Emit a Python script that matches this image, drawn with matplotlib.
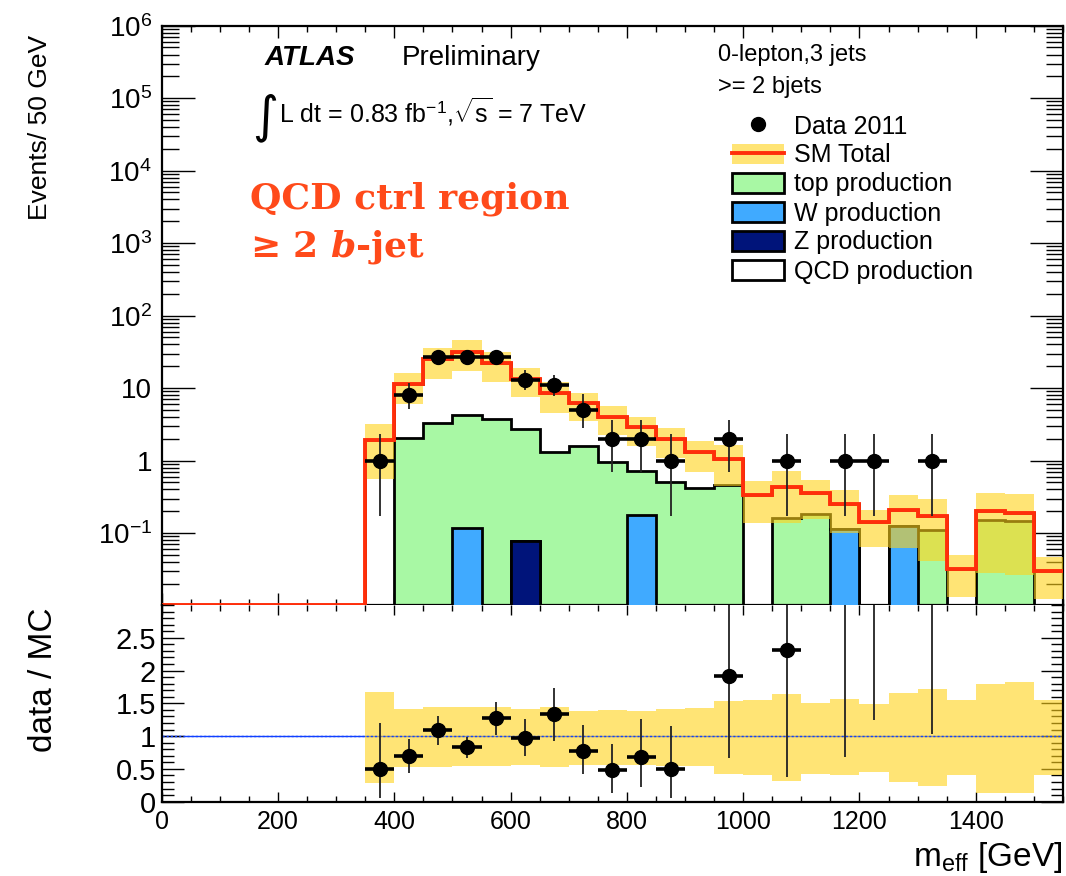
import matplotlib
matplotlib.use("Agg")
import matplotlib.pyplot as plt
import numpy as np
from matplotlib.lines import Line2D
from matplotlib.patches import Patch
from matplotlib.ticker import MultipleLocator, FixedLocator, LogLocator, FuncFormatter, NullFormatter

plt.rcParams['font.family'] = ['Liberation Sans', 'DejaVu Sans']
plt.rcParams['mathtext.fontset'] = 'custom'
plt.rcParams['mathtext.rm'] = 'Liberation Sans'
plt.rcParams['mathtext.it'] = 'DejaVu Serif:italic:bold'
plt.rcParams['mathtext.bf'] = 'DejaVu Serif:bold'

# ---- data (50 GeV bins, 0 - 1550 GeV) ----
edges = np.arange(0, 1551, 50)

sm_total = [0, 0, 0, 0, 0, 0, 0, 1.9, 11.4, 25, 31.7, 22, 13.3, 8.5, 6.3, 4.0,
            2.87, 1.99, 1.30, 1.05, 0.34, 0.435, 0.36, 0.254, 0.142, 0.205, 0.171,
            0.0324, 0.199, 0.19, 0.030]
top_prod = [0, 0, 0, 0, 0, 0, 0, 0, 2.05, 3.3, 4.08, 3.75, 2.67, 1.32, 1.57, 0.96,
            0.55, 0.50, 0.42, 0.467, 0, 0.163, 0.181, 0, 0, 0, 0.112,
            0, 0.151, 0.148, 0]
w_prod = [0, 0, 0, 0, 0, 0, 0, 0, 0, 0, 0.119, 0, 0, 0, 0, 0,
          0.177, 0, 0, 0, 0, 0, 0, 0.113, 0, 0.124, 0,
          0, 0, 0, 0]
z_prod = [0, 0, 0, 0, 0, 0, 0, 0, 0, 0, 0, 0, 0.077, 0, 0, 0,
          0, 0, 0, 0, 0, 0, 0, 0, 0, 0, 0,
          0, 0, 0, 0]

# relative SM uncertainty band, bins from 350 GeV on
band_edges = edges[7:]
band_hi = [1.67, 1.42, 1.44, 1.44, 1.44, 1.42, 1.44, 1.38, 1.40, 1.39, 1.41, 1.43,
           1.54, 1.55, 1.64, 1.50, 1.56, 1.49, 1.66, 1.72, 1.55, 1.80, 1.82, 1.55]
band_lo = [0.29, 0.53, 0.53, 0.54, 0.55, 0.56, 0.53, 0.56, 0.56, 0.56, 0.54, 0.54,
           0.42, 0.41, 0.32, 0.43, 0.40, 0.45, 0.30, 0.24, 0.41, 0.14, 0.14, 0.41]

data_x = [375, 425, 475, 525, 575, 625, 675, 725, 775, 825, 875, 975, 1075, 1175, 1225, 1325]
data_val = [1, 8, 27, 27, 27, 13, 11, 5, 2, 2, 1, 2, 1, 1, 1, 1]
data_hi = [2.36, 11.9, 33, 33, 33, 17.6, 15.4, 8.4, 3.6, 3.6, 2.36, 3.6, 2.36, 2.36, 2.36, 2.36]
data_lo = [0.17, 5.2, 22, 22, 22, 9.4, 7.7, 2.8, 0.7, 0.7, 0.17, 0.7, 0.17, 0.17, 0.17, 0.17]

ratio_val = [0.50, 0.70, 1.09, 0.84, 1.27, 0.97, 1.33, 0.78, 0.48, 0.68, 0.50, 1.91, 2.32, 3.9, 7.0, 5.8]
ratio_hi = [1.20, 0.96, 1.30, 0.98, 1.52, 1.26, 1.74, 1.17, 0.88, 1.26, 1.16, 3.45, 5.4, 9.3, 16.6, 13.8]
ratio_lo = [0.05, 0.44, 0.87, 0.67, 1.02, 0.69, 0.92, 0.43, 0.14, 0.22, 0.05, 0.66, 0.37, 0.68, 1.25, 1.04]

# colours
c_top = '#A8F8A4'
c_w = '#40AAFF'
c_z = '#00147A'
c_red = '#FF2E0A'
c_band = '#FFD21A'
c_txt = '#FF4A1A'

YMIN = 0.0102
FLOOR = 1e-5

fig = plt.figure(figsize=(10.66, 8.76), dpi=100)
ax = fig.add_axes([0.1517, 0.3094, 0.8455, 0.6613])
rx = fig.add_axes([0.1517, 0.0848, 0.8455, 0.2246])

total = np.array(sm_total)
lvl_z = np.array(z_prod)
lvl_w = lvl_z + np.array(w_prod)
lvl_top = lvl_w + np.array(top_prod)


def fl(v):
    return np.where(v > 0, v, FLOOR)


# stacked histograms (QCD on top drawn first)
ax.stairs(fl(total), edges, baseline=FLOOR, fill=True, facecolor='white', edgecolor='black', lw=2, zorder=1)
ax.stairs(fl(lvl_top), edges, baseline=FLOOR, fill=True, facecolor=c_top, edgecolor='black', lw=2, zorder=2)
ax.stairs(fl(lvl_w), edges, baseline=FLOOR, fill=True, facecolor=c_w, edgecolor='black', lw=2, zorder=3)
ax.stairs(fl(lvl_z), edges, baseline=FLOOR, fill=True, facecolor=c_z, edgecolor='black', lw=2, zorder=4)

# uncertainty band
tot_b = total[7:]
ax.stairs(tot_b * np.array(band_hi), band_edges, baseline=tot_b * np.array(band_lo),
          fill=True, facecolor=c_band, alpha=0.6, lw=0, zorder=5)

# SM total line
ax.stairs(np.where(total > 0, total, YMIN), edges, baseline=None, color=c_red, lw=2.8,
          zorder=6, clip_on=False)

# data
dv = np.array(data_val)
ax.errorbar(data_x, dv, yerr=[dv - np.array(data_lo), np.array(data_hi) - dv],
            fmt='none', ecolor='#222222', elinewidth=1.3, zorder=7)
ax.errorbar(data_x, dv, xerr=25, fmt='o', color='black', ms=10, elinewidth=2.6, zorder=8)

ax.set_yscale('log')
ax.set_ylim(YMIN, 1e6)
ax.set_xlim(0, 1550)
ax.yaxis.set_major_locator(LogLocator(base=10, numticks=20))
ax.yaxis.set_minor_locator(LogLocator(base=10, subs=np.arange(2, 10), numticks=20))


def logfmt(v, pos):
    e = int(round(np.log10(v)))
    if e == 0:
        return '1'
    if e == 1:
        return '10'
    return r'$10^{%d}$' % e


ax.yaxis.set_major_formatter(FuncFormatter(logfmt))
ax.yaxis.set_minor_formatter(NullFormatter())
ax.xaxis.set_major_locator(MultipleLocator(200))
ax.xaxis.set_minor_locator(MultipleLocator(50))
ax.tick_params(axis='x', labelbottom=False)
ax.tick_params(which='both', direction='in', top=True, right=True, width=1.0)
ax.tick_params(axis='y', which='major', length=24, labelsize=20, pad=7)
ax.tick_params(axis='y', which='minor', length=12)
ax.tick_params(axis='x', which='major', length=8.5)
ax.tick_params(axis='x', which='minor', length=4.5)

# ratio panel
rx.axhline(1, color='#1040FF', lw=1.0, zorder=1)
rx.stairs(band_hi, band_edges, baseline=band_lo, fill=True, facecolor=c_band, alpha=0.6, lw=0, zorder=2)
rx.axhline(1, color='#1040FF', lw=1.0, ls=(0, (1.5, 1.5)), zorder=2.5)
rv = np.array(ratio_val)
rx.errorbar(data_x, rv, yerr=[rv - np.array(ratio_lo), np.array(ratio_hi) - rv],
            fmt='none', ecolor='#222222', elinewidth=1.3, zorder=3)
rx.errorbar(data_x, rv, xerr=25, fmt='o', color='black', ms=10, elinewidth=2.6, zorder=4)
rx.set_xlim(0, 1550)
rx.set_ylim(0, 3)
rx.yaxis.set_major_locator(FixedLocator([0, 0.5, 1, 1.5, 2, 2.5]))
rx.yaxis.set_minor_locator(MultipleLocator(0.1))
rx.yaxis.set_major_formatter(FuncFormatter(lambda v, p: '%g' % v))
rx.xaxis.set_major_locator(MultipleLocator(200))
rx.xaxis.set_minor_locator(MultipleLocator(50))
rx.tick_params(which='both', direction='in', top=True, right=True, width=1.0)
rx.tick_params(axis='y', which='major', length=16, labelsize=21, pad=4)
rx.tick_params(axis='y', which='minor', length=8.5)
rx.tick_params(axis='x', which='major', length=7, labelsize=18, pad=6)
rx.tick_params(axis='x', which='minor', length=4)

for a in (ax, rx):
    for s in a.spines.values():
        s.set_linewidth(1.6)
# main panel's bottom spine is shared with the ratio panel
rx.spines['top'].set_visible(False)

# texts
W, H = 1066.0, 876.0
fig.text(265 / W, 1 - 65 / H, 'ATLAS', fontsize=20, fontweight='bold', fontstyle='italic', va='baseline')
fig.text(402 / W, 1 - 65 / H, 'Preliminary', fontsize=20, va='baseline')
fig.text(252 / W, 1 - 131 / H, '\u222b', fontsize=36, family='DejaVu Sans', va='baseline')
fig.text(279 / W, 1 - 122 / H, r'L dt = 0.83 fb$^{-1}$,$\sqrt{\mathrm{s}}$ = 7 TeV', fontsize=18, va='baseline')
fig.text(718 / W, 1 - 55 / H, '0-lepton,3 jets', fontsize=17, va='center')
fig.text(718 / W, 1 - 87 / H, '>= 2 bjets', fontsize=17, va='center')
fig.text(250 / W, 1 - 209 / H, 'QCD ctrl region', fontsize=26, family='DejaVu Serif',
         fontweight='bold', color=c_txt, va='baseline')
fig.text(250 / W, 1 - 256 / H, '\u2265 2 $\\mathit{b}$-jet', fontsize=26, family='DejaVu Serif',
         fontweight='bold', color=c_txt, va='baseline')

fig.text(40 / W, 1 - 127 / H, 'Events/ 50 GeV', fontsize=19, rotation=90, ha='center', va='center')
fig.text(43 / W, 1 - 680 / H, 'data / MC', fontsize=24, rotation=90, ha='center', va='center')
fig.text(1062 / W, 1 - 866 / H, r'm$_{\mathrm{eff}}$ [GeV]', fontsize=24, ha='right', va='baseline')

# legend
handles = [
    Line2D([], [], marker='o', color='black', ls='none', ms=10),
    (Patch(facecolor=c_band, alpha=0.6, lw=0), Line2D([], [], color=c_red, lw=2.8)),
    Patch(facecolor=c_top, edgecolor='black', lw=2),
    Patch(facecolor=c_w, edgecolor='black', lw=2),
    Patch(facecolor=c_z, edgecolor='black', lw=2),
    Patch(facecolor='white', edgecolor='black', lw=2),
]
labels = ['Data 2011', 'SM Total', 'top production', 'W production', 'Z production', 'QCD production']
fig.legend(handles, labels, loc='upper left', bbox_to_anchor=(714 / W, 1 - 97 / H),
           frameon=False, fontsize=18, labelspacing=0.2, handlelength=2.1, handleheight=0.9,
           handletextpad=0.4, borderpad=0.2)

fig.savefig('out.png', dpi=100)
